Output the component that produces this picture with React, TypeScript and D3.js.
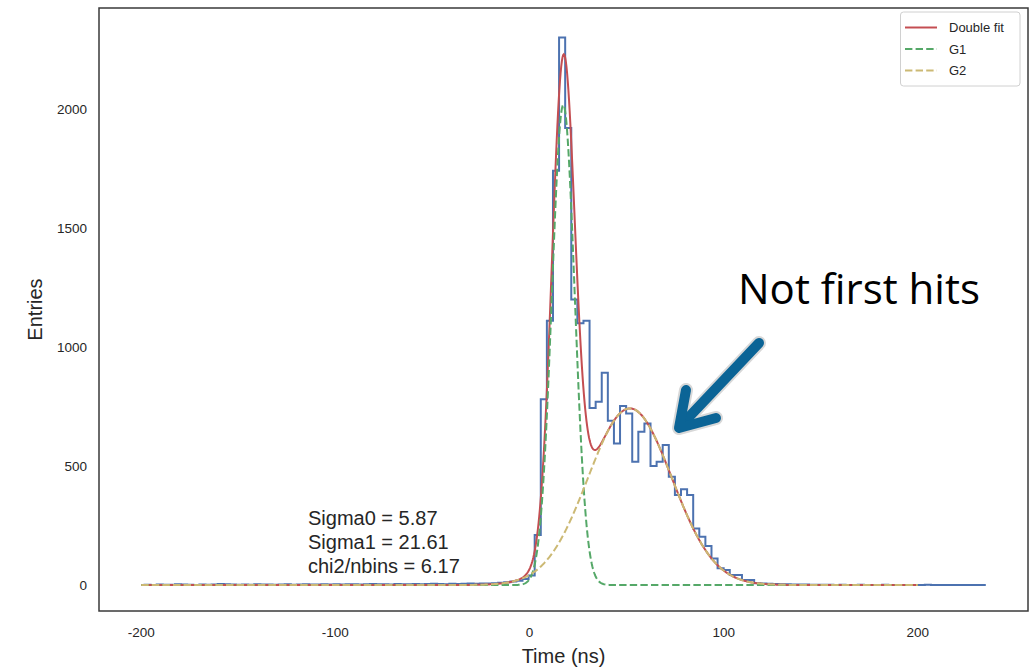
import React from "react";
import * as d3 from "d3";

// ---- data ----
const binStart = -198.3;
const binWidth = 3.14;
const counts: number[] = [
  1, 0, 2, 1, 1, 3, 2, 1, 0, 2,
  1, 2, 4, 3, 2, 1, 2, 1, 3, 2,
  2, 1, 2, 3, 1, 2, 3, 2, 2, 3,
  2, 3, 2, 3, 3, 2, 3, 4, 3, 3,
  2, 4, 3, 3, 4, 3, 4, 5, 4, 3,
  5, 4, 5, 6, 5,
  6, 7, 8, 10, 12, 15, 18, 25, 40, 210,
  780, 1110, 1740, 2300, 1920, 1200, 1100, 1110, 744, 770,
  892, 690, 595, 752, 721, 518, 644, 679, 500, 518,
  588, 455, 378, 402, 378, 238, 203, 164, 112, 71,
  63, 42, 42, 21, 21, 8,
  6, 5, 4, 3, 3, 2, 2, 2, 1, 1,
  1, 1, 0, 1, 0, 0, 1, 0, 0, 0,
  1, 0, 0, 0, 0, 0, 0, 1, 0, 0,
  0, 0, 0, 0, 0, 0, 0,
];
// Gaussian fit parameters
const g1 = { amp: 2017, mean: 17.4, sigma: 5.87 };
const g2 = { amp: 742, mean: 51.7, sigma: 21.61 };
const fitRange = [-200, 200];
const xTicks = [-200, -100, 0, 100, 200];
const yTicks = [0, 500, 1000, 1500, 2000];
const statLines = ["Sigma0 = 5.87", "Sigma1 = 21.61", "chi2/nbins = 6.17"];
const legendItems = [
  { label: "Double fit", color: "#C44E52", dash: "" },
  { label: "G1", color: "#55A868", dash: "7.4 3.2" },
  { label: "G2", color: "#CCB974", dash: "7.4 3.2" },
];

const FONT = "'Liberation Sans', Arial, Helvetica, sans-serif";

export default function App() {
  const L = 99, R = 1028, T = 8, B = 611;
  const x = d3.scaleLinear().domain([-221.75, 256.75]).range([L, R]);
  const y = d3.scaleLinear().domain([-109, 2424]).range([B, T]);

  const pts: [number, number][] = [[binStart, 0]];
  counts.forEach((c, i) => {
    const a = binStart + i * binWidth;
    pts.push([a, c], [a + binWidth, c]);
  });
  pts.push([binStart + counts.length * binWidth, 0]);
  const line = d3.line<[number, number]>().x((d) => x(d[0])).y((d) => y(d[1]));
  const histPath = line(pts) || "";

  const gauss = (p: { amp: number; mean: number; sigma: number }, t: number) =>
    p.amp * Math.exp(-((t - p.mean) ** 2) / (2 * p.sigma * p.sigma));
  const ts = d3.range(0, 1201).map((i) => fitRange[0] + (i * (fitRange[1] - fitRange[0])) / 1200);
  const fitLine = d3.line<number>().x((t) => x(t));
  const dPath = fitLine.y((t) => y(gauss(g1, t) + gauss(g2, t)))(ts) || "";
  const g1Path = d3.line<number>().x((t) => x(t)).y((t) => y(gauss(g1, t)))(ts) || "";
  const g2Path = d3.line<number>().x((t) => x(t)).y((t) => y(gauss(g2, t)))(ts) || "";

  const textCol = "#262626";

  return (
    <svg
      width={1035}
      height={668}
      style={{ position: "absolute", left: 0, top: 0, background: "#fff" }}
      fontFamily={FONT}
    >
      <rect x={0} y={0} width={1035} height={668} fill="#fff" />
      {/* histogram */}
      <path d={histPath} fill="none" stroke="#4C72B0" strokeWidth={2} strokeLinejoin="miter" />
      {/* fits */}
      <path d={dPath} fill="none" stroke="#C44E52" strokeWidth={2} />
      <path d={g1Path} fill="none" stroke="#55A868" strokeWidth={2} strokeDasharray="7.4 3.2" />
      <path d={g2Path} fill="none" stroke="#CCB974" strokeWidth={2} strokeDasharray="7.4 3.2" />

      {/* frame */}
      <rect x={L} y={T} width={R - L} height={B - T} fill="none" stroke="#3a3a3a" strokeWidth={1.5} />

      {/* ticks */}
      {xTicks.map((t) => (
        <text key={"x" + t} x={x(t)} y={637} textAnchor="middle" fontSize={13.5} fill={textCol}>
          {t}
        </text>
      ))}
      {yTicks.map((t) => (
        <text key={"y" + t} x={87} y={y(t) + 5} textAnchor="end" fontSize={13.5} fill={textCol}>
          {t}
        </text>
      ))}
      {/* axis labels */}
      <text x={(L + R) / 2} y={663} textAnchor="middle" fontSize={20} fill={textCol}>
        Time (ns)
      </text>
      <text
        transform={`translate(42,${(T + B) / 2}) rotate(-90)`}
        textAnchor="middle"
        fontSize={20}
        fill={textCol}
      >
        Entries
      </text>

      {/* stats text */}
      {statLines.map((s, i) => (
        <text key={s} x={308} y={525 + i * 24} fontSize={20} fill={textCol}>
          {s}
        </text>
      ))}

      {/* legend */}
      <rect x={900.5} y={12} width={119.5} height={74} rx={3} fill="#fff" stroke="#d0d0d0" strokeWidth={1} />
      {legendItems.map((it, i) => (
        <g key={it.label}>
          <line
            x1={905}
            x2={937}
            y1={27.5 + i * 21.5}
            y2={27.5 + i * 21.5}
            stroke={it.color}
            strokeWidth={2}
            strokeDasharray={it.dash || undefined}
          />
          <text x={949} y={32 + i * 21.5} fontSize={13} fill={textCol}>
            {it.label}
          </text>
        </g>
      ))}

      {/* annotation */}
      <text x={738} y={304} fontSize={42} fill="#000" fontFamily="'Open Sans', 'Liberation Sans', sans-serif">
        Not first hits
      </text>
      <g fill="none" strokeLinecap="round" strokeLinejoin="round">
        <g stroke="#d8d8d8" strokeWidth={14}>
          <line x1={759} y1={343} x2={688} y2={418} />
          <polyline points="686,390 679,428 716,418" />
        </g>
        <g stroke="#0B6496" strokeWidth={10}>
          <line x1={759} y1={343} x2={688} y2={418} />
          <polyline points="686,390 679,428 716,418" />
        </g>
      </g>
    </svg>
  );
}
